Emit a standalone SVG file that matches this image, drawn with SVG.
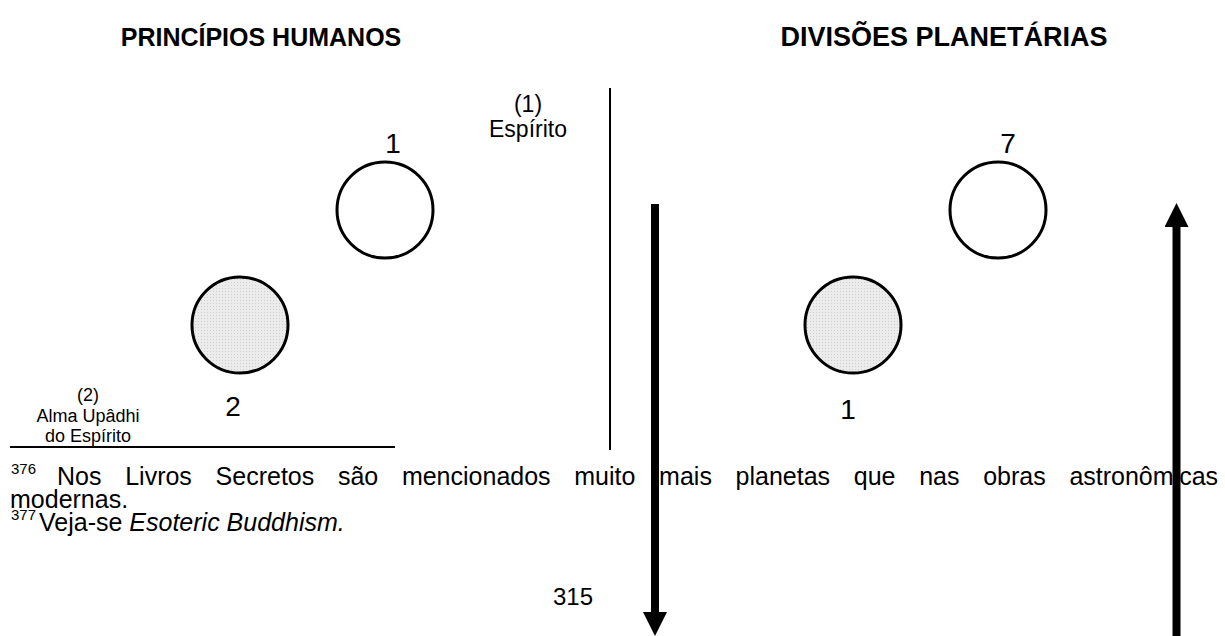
<svg xmlns="http://www.w3.org/2000/svg" width="1225" height="636" viewBox="0 0 1225 636">
<style>
text{font-family:"Liberation Sans",Arial,sans-serif;fill:#000}
.title{font-weight:bold;text-anchor:middle}
.num{font-size:28px;text-anchor:middle}
.lbl{font-size:23px;text-anchor:middle}
.lbl2{font-size:18px;text-anchor:middle}
.fn{font-size:25px}
.sup{font-size:15px}
.pg{font-size:24px;text-anchor:middle}
.white{fill:#fff;stroke:#000;stroke-width:3}
.gray{fill:url(#dots);stroke:#000;stroke-width:3}
.line{stroke:#000;stroke-width:2;fill:none}
.arrow{stroke:#000;stroke-width:8;fill:none}
</style>
<defs>
<pattern id="dots" width="3" height="3" patternUnits="userSpaceOnUse">
<rect width="3" height="3" fill="#ececec"/>
<rect width="1" height="1" fill="#cfcfcf"/>
</pattern>
<marker id="ah" markerWidth="3" markerHeight="3" refX="0" refY="1.5" orient="auto" markerUnits="strokeWidth">
<path d="M0,0 L3,1.5 L0,3 Z" fill="#000"/>
</marker>
</defs>
<rect width="1225" height="636" fill="#fff"/>
<text class="title" x="261" y="46" font-size="25">PRINCÍPIOS HUMANOS</text>
<text class="title" x="944" y="46" font-size="27">DIVISÕES PLANETÁRIAS</text>
<g id="left-top">
<circle class="white" cx="385" cy="210" r="48"/>
<text class="num" x="393" y="153">1</text>
<text class="lbl" x="528" y="112">(1)</text>
<text class="lbl" x="528" y="137">Espírito</text>
</g>
<g id="left-bottom">
<circle class="gray" cx="240" cy="325" r="48"/>
<text class="num" x="233" y="416">2</text>
<text class="lbl2" x="88" y="401">(2)</text>
<text class="lbl2" x="88" y="422">Alma Upâdhi</text>
<text class="lbl2" x="88" y="442">do Espírito</text>
</g>
<g id="right-top">
<circle class="white" cx="998" cy="210" r="48"/>
<text class="num" x="1008" y="153">7</text>
</g>
<g id="right-bottom">
<circle class="gray" cx="853" cy="325" r="48"/>
<text class="num" x="848" y="419">1</text>
</g>
<g id="connectors">
<line class="line" x1="610" y1="88" x2="610" y2="450"/>
<line class="line" x1="10" y1="447" x2="395" y2="447"/>
<line class="arrow" x1="655" y1="204" x2="655" y2="612" marker-end="url(#ah)"/>
<line class="arrow" x1="1176.5" y1="636" x2="1176.5" y2="227" marker-end="url(#ah)"/>
</g>
<g id="footnotes">
<text class="sup" x="11" y="474">376</text>
<text class="fn" y="485"><tspan x="57">Nos</tspan><tspan x="125.2">Livros</tspan><tspan x="215.6">Secretos</tspan><tspan x="337.9">são</tspan><tspan x="401.9">mencionados</tspan><tspan x="574.3">muito</tspan><tspan x="659.1">mais</tspan><tspan x="735.6">planetas</tspan><tspan x="853.8">que</tspan><tspan x="919.2">nas</tspan><tspan x="983.2">obras</tspan><tspan x="1069.4">astronômicas</tspan></text>
<text class="fn" x="10" y="508">modernas.</text>
<text class="sup" x="11" y="520">377</text>
<text class="fn" y="531"><tspan x="39">Veja-se </tspan><tspan font-style="italic">Esoteric Buddhism.</tspan></text>
<text class="pg" x="573" y="605">315</text>
</g>
</svg>
